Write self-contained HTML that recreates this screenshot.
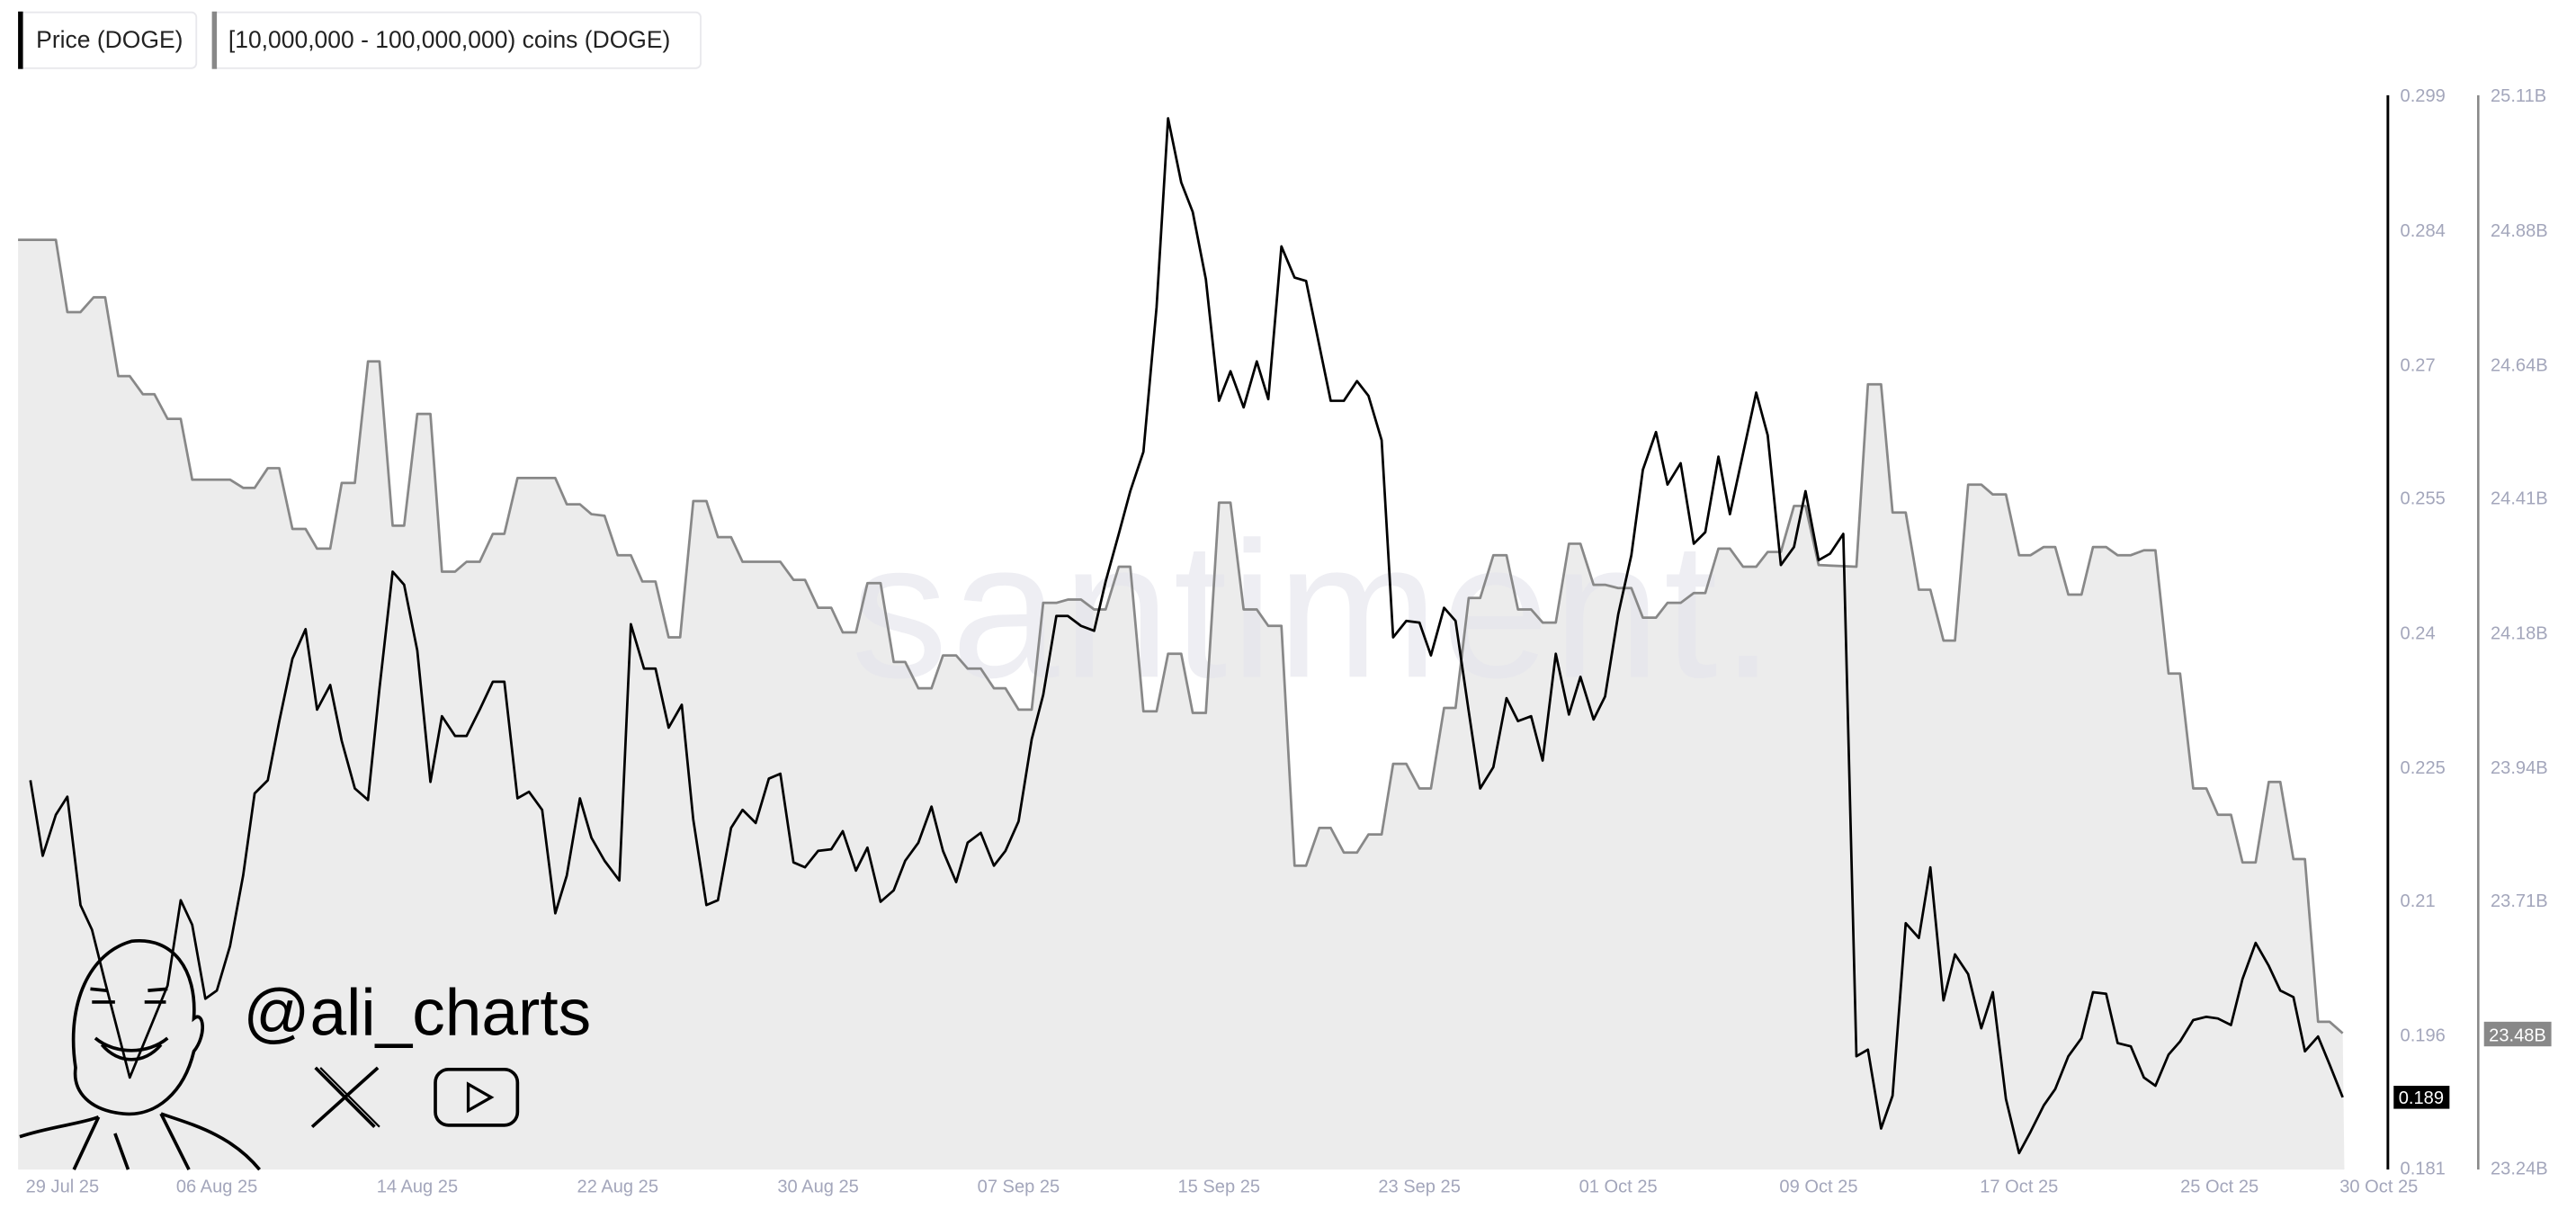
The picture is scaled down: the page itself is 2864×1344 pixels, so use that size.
<!DOCTYPE html>
<html><head><meta charset="utf-8"><style>
html,body{margin:0;padding:0;background:#fff;}
svg{display:block;}
text{font-family:"Liberation Sans",Arial,sans-serif;}
</style></head><body>
<svg width="2864" height="1344" viewBox="0 0 1568 736" preserveAspectRatio="none" xmlns="http://www.w3.org/2000/svg">
<rect width="1568" height="736" fill="#fff"/>
<!-- legend -->
<rect x="11.5" y="7.5" width="108" height="34" rx="3" fill="#fff" stroke="#e8e8ec"/>
<rect x="11" y="7" width="3" height="35" fill="#000"/>
<text x="22" y="29" font-size="14.5" fill="#222">Price (DOGE)</text>
<rect x="129.5" y="7.5" width="297" height="34" rx="3" fill="#fff" stroke="#e8e8ec"/>
<rect x="129" y="7" width="3" height="35" fill="#888"/>
<text x="139" y="29" font-size="14.5" fill="#222">[10,000,000 - 100,000,000) coins (DOGE)</text>

<!-- gray area -->
<polygon fill="#ececec" points="11,712 11,146 34,146 41,190 49,190 57,181 64,181 72,229 79,229 87,240 94,240 102,255 110,255 117,292 140,292 148,297 155,297 163,285 170,285 178,322 186,322 193,334 201,334 208,294 216,294 224,220 231,220 239,320 246,320 254,252 262,252 269,348 277,348 284,342 292,342 300,325 307,325 315,291 338,291 345,307 353,307 360,313 368,314 376,338 384,338 391,354 399,354 407,388 414,388 422,305 430,305 437,327 445,327 452,342 475,342 483,353 490,353 498,370 506,370 513,385 521,385 528,355 536,355 544,403 551,403 559,419 567,419 574,399 582,399 589,407 597,407 605,419 612,419 620,432 628,432 635,367 643,367 650,365 658,365 666,371 673,371 681,345 688,345 696,433 704,433 711,398 719,398 726,434 734,434 742,306 749,306 757,371 765,371 772,381 780,381 788,527 795,527 803,504 810,504 818,519 826,519 833,508 841,508 848,465 856,465 864,480 871,480 879,431 886,431 894,364 901,364 909,338 917,338 924,371 932,371 939,379 947,379 955,331 962,331 970,356 977,356 985,358 993,358 1000,376 1008,376 1015,367 1023,367 1031,361 1038,361 1046,334 1053,334 1061,345 1069,345 1076,336 1084,336 1092,308 1099,308 1107,344 1130,345 1137,234 1145,234 1152,312 1160,312 1168,359 1175,359 1183,390 1190,390 1198,295 1206,295 1213,301 1221,301 1229,338 1236,338 1244,333 1251,333 1259,362 1267,362 1274,333 1282,333 1289,338 1297,338 1305,335 1312,335 1320,410 1327,410 1335,480 1343,480 1350,496 1358,496 1365,525 1373,525 1381,476 1388,476 1396,523 1403,523 1411,622 1418,622 1426,629 1427,712"/>

<!-- watermark -->
<text x="518" y="412" font-size="118" fill="#e4e4ec" opacity="0.6" letter-spacing="2">santiment.</text>

<polyline fill="none" stroke="#888" stroke-width="1.5" stroke-linejoin="round" points="11,146 34,146 41,190 49,190 57,181 64,181 72,229 79,229 87,240 94,240 102,255 110,255 117,292 140,292 148,297 155,297 163,285 170,285 178,322 186,322 193,334 201,334 208,294 216,294 224,220 231,220 239,320 246,320 254,252 262,252 269,348 277,348 284,342 292,342 300,325 307,325 315,291 338,291 345,307 353,307 360,313 368,314 376,338 384,338 391,354 399,354 407,388 414,388 422,305 430,305 437,327 445,327 452,342 475,342 483,353 490,353 498,370 506,370 513,385 521,385 528,355 536,355 544,403 551,403 559,419 567,419 574,399 582,399 589,407 597,407 605,419 612,419 620,432 628,432 635,367 643,367 650,365 658,365 666,371 673,371 681,345 688,345 696,433 704,433 711,398 719,398 726,434 734,434 742,306 749,306 757,371 765,371 772,381 780,381 788,527 795,527 803,504 810,504 818,519 826,519 833,508 841,508 848,465 856,465 864,480 871,480 879,431 886,431 894,364 901,364 909,338 917,338 924,371 932,371 939,379 947,379 955,331 962,331 970,356 977,356 985,358 993,358 1000,376 1008,376 1015,367 1023,367 1031,361 1038,361 1046,334 1053,334 1061,345 1069,345 1076,336 1084,336 1092,308 1099,308 1107,344 1130,345 1137,234 1145,234 1152,312 1160,312 1168,359 1175,359 1183,390 1190,390 1198,295 1206,295 1213,301 1221,301 1229,338 1236,338 1244,333 1251,333 1259,362 1267,362 1274,333 1282,333 1289,338 1297,338 1305,335 1312,335 1320,410 1327,410 1335,480 1343,480 1350,496 1358,496 1365,525 1373,525 1381,476 1388,476 1396,523 1403,523 1411,622 1418,622 1426,629"/>

<polyline fill="none" stroke="#000" stroke-width="1.5" stroke-linejoin="round" points="18.5,475 26,521 34,496 41,485 49,551 56,566 64,598 79,656 102,600 110,548 117,563 125,608 132,603 140,576 148,533 155,483 163,475 170,439 178,401 186,383 193,432 201,417 208,451 216,480 224,487 231,419 239,348 246,356 254,396 262,476 269,436 277,448 284,448 292,432 300,415 307,415 315,486 322,482 330,493 338,556 345,533 353,486 360,510 368,524 377,536 384,380 392,407 399,407 407,443 415,429 422,499 430,551 437,548 445,504 452,493 460,501 468,474 475,471 483,525 490,528 498,518 506,517 513,506 521,530 528,516 536,549 544,542 551,524 559,513 567,491 574,518 582,537 589,513 597,507 605,527 612,518 620,500 628,450 635,423 643,375 650,375 658,381 666,384 673,354 681,325 688,299 696,275 704,187 711,72 719,111 726,129 734,170 742,244 749,226 757,248 765,220 772,243 780,150 788,169 795,171 803,210 810,244 818,244 826,232 833,241 841,268 848,388 856,378 864,379 871,399 879,370 886,378 894,433 901,480 909,467 917,425 924,439 932,436 939,463 947,398 955,435 962,412 970,438 977,424 985,374 993,338 1000,286 1008,263 1015,295 1023,282 1031,331 1038,324 1046,278 1053,313 1061,276 1069,239 1076,265 1084,344 1092,333 1099,299 1107,341 1114,337 1122,325 1130,643 1137,639 1145,687 1152,667 1160,562 1168,571 1175,528 1183,609 1190,581 1198,593 1206,626 1213,604 1221,669 1229,702 1236,689 1244,673 1251,663 1259,643 1267,632 1274,604 1282,605 1289,635 1297,637 1305,656 1312,661 1320,642 1327,634 1335,621 1343,619 1350,620 1358,624 1365,596 1373,574 1381,588 1388,603 1396,607 1403,640 1411,631 1418,648 1426,668"/>

<!-- ali_charts logo -->
<g fill="none" stroke="#000" stroke-width="2">
<path d="M46,650 C40,610 55,580 80,573 C105,570 120,590 118,620 C124,615 126,630 118,640 C112,665 95,680 75,678 C55,676 44,665 46,650 Z"/>
<path d="M55,602 L65,603 M90,603 L102,602 M56,610 L70,610 M88,610 L101,610"/>
<path d="M58,632 C70,642 90,642 102,632 M62,636 C72,648 88,648 98,636"/>
<path d="M12,692 C30,686 50,684 60,680 M98,678 C115,684 140,690 158,712"/>
<path d="M60,680 L45,712 M98,678 L115,712 M70,690 L78,712"/>
</g>
<text x="148" y="630" font-size="40" fill="#000">@ali_charts</text>
<g stroke="#000" fill="none" stroke-width="2">
<path d="M192,650 L228,686 M230,650 L190,686"/>
<path d="M195,650 L231,686" stroke-width="1.2"/>
<rect x="265" y="651" width="50" height="34" rx="8"/>
<path d="M285,660 L299,668 L285,676 Z" stroke-width="1.8"/>
</g>

<!-- axes -->
<line x1="1453.5" y1="58" x2="1453.5" y2="712" stroke="#000" stroke-width="1.6"/>
<line x1="1508.5" y1="58" x2="1508.5" y2="712" stroke="#888" stroke-width="1.4"/>
<g font-size="11" fill="#a3a6bb">
<text x="1461" y="62">0.299</text>
<text x="1461" y="144">0.284</text>
<text x="1461" y="226">0.27</text>
<text x="1461" y="307">0.255</text>
<text x="1461" y="389">0.24</text>
<text x="1461" y="471">0.225</text>
<text x="1461" y="552">0.21</text>
<text x="1461" y="634">0.196</text>
<text x="1461" y="715">0.181</text>
<text x="1516" y="62">25.11B</text>
<text x="1516" y="144">24.88B</text>
<text x="1516" y="226">24.64B</text>
<text x="1516" y="307">24.41B</text>
<text x="1516" y="389">24.18B</text>
<text x="1516" y="471">23.94B</text>
<text x="1516" y="552">23.71B</text>
<text x="1516" y="715">23.24B</text>
</g>
<rect x="1512" y="622" width="41" height="15" fill="#888"/>
<text x="1515" y="634" font-size="11" fill="#fff">23.48B</text>
<rect x="1457" y="661" width="34" height="14" fill="#000"/>
<text x="1460" y="672" font-size="11" fill="#fff">0.189</text>

<g font-size="11" fill="#a3a6bb" text-anchor="middle">
<text x="38" y="726">29 Jul 25</text>
<text x="132" y="726">06 Aug 25</text>
<text x="254" y="726">14 Aug 25</text>
<text x="376" y="726">22 Aug 25</text>
<text x="498" y="726">30 Aug 25</text>
<text x="620" y="726">07 Sep 25</text>
<text x="742" y="726">15 Sep 25</text>
<text x="864" y="726">23 Sep 25</text>
<text x="985" y="726">01 Oct 25</text>
<text x="1107" y="726">09 Oct 25</text>
<text x="1229" y="726">17 Oct 25</text>
<text x="1351" y="726">25 Oct 25</text>
<text x="1448" y="726">30 Oct 25</text>
</g>
</svg>
</body></html>
